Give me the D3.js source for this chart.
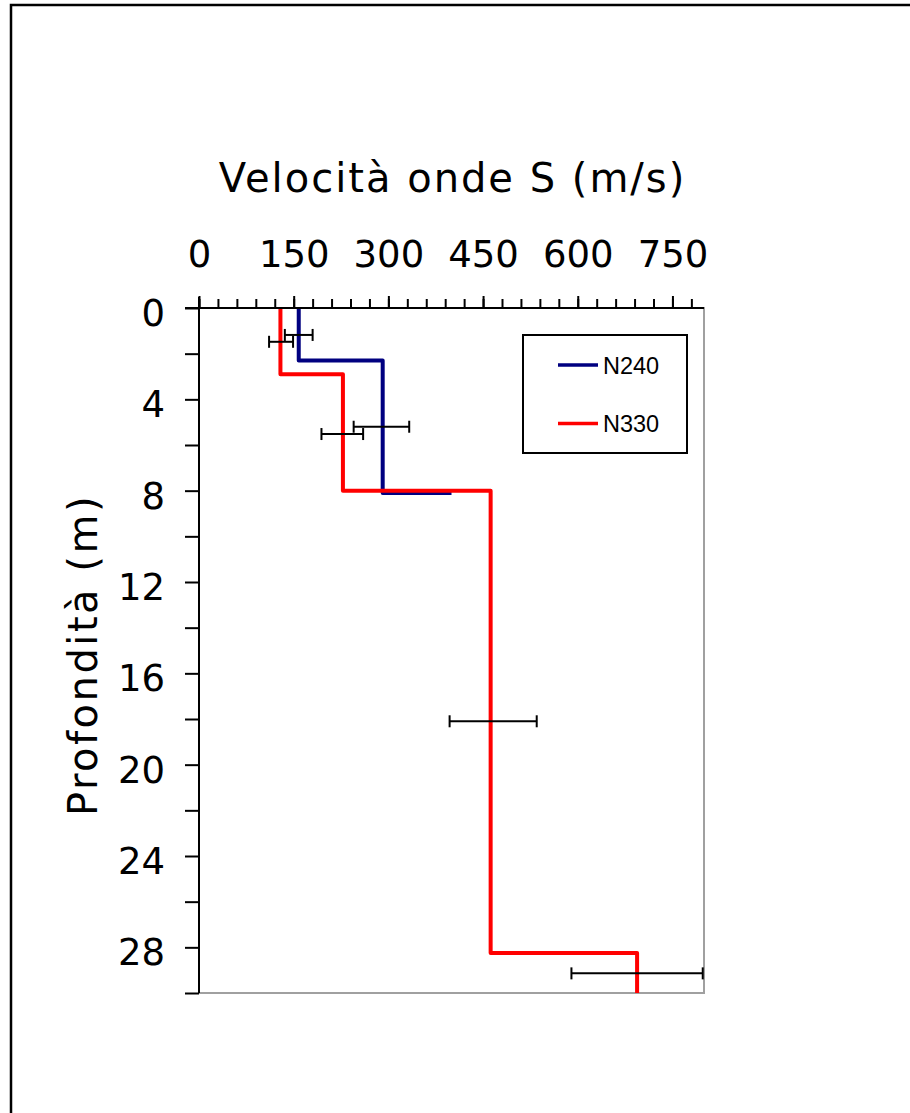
<!DOCTYPE html>
<html>
<head>
<meta charset="utf-8">
<script src="https://cdn.jsdelivr.net/npm/d3@7"></script>
<style>
  html, body { margin: 0; padding: 0; background: #fff; }
  svg { display: block; }
</style>
</head>
<body>
<svg id="chart" width="910" height="1113"></svg>
<script>
// ---- Data ----
const n240Velocity = [158, 158, 291, 291, 400];
const n240Depth    = [0, 2.3, 2.3, 8.1, 8.1];
const n330Velocity = [129, 129, 228, 228, 462, 462, 694, 694];
const n330Depth    = [0, 2.9, 2.9, 8.0, 8.0, 28.25, 28.25, 30];
const errDepth     = [1.18, 1.48, 5.2, 5.52, 18.1, 29.14];
const errVelocity  = [158, 130, 289, 227, 466, 694];
const errDelta     = [22, 19, 44, 33, 69, 104];
const seriesNames  = ["N240", "N330"];
const seriesColors = ["#000080", "#ff0000"];
const xMajorTicks  = [0, 150, 300, 450, 600, 750];
const yMajorTicks  = [0, 4, 8, 12, 16, 20, 24, 28];
const xTitle = "Velocità onde S (m/s)";
const yTitle = "Profondità (m)";

// ---- Layout ----
const svg = d3.select("#chart");
const L = 199, R = 704, T = 308, B = 993;
const x = d3.scaleLinear().domain([0, 800]).range([L, R]);
const y = d3.scaleLinear().domain([0, 30]).range([T, B]);
const numFont = "'DejaVu Sans', Verdana, sans-serif";

// outer frame
svg.append("rect").attr("x", 11).attr("y", 5).attr("width", 1000).attr("height", 1200)
  .attr("fill", "none").attr("stroke", "#000").attr("stroke-width", 2.5);

// plot area border (right/bottom gray)
svg.append("rect").attr("x", L).attr("y", T).attr("width", R - L).attr("height", B - T)
  .attr("fill", "none").attr("stroke", "#a0a0a0").attr("stroke-width", 2);

// series lines
const series = [
  {name: seriesNames[0], color: seriesColors[0], v: n240Velocity, d: n240Depth},
  {name: seriesNames[1], color: seriesColors[1], v: n330Velocity, d: n330Depth}
];
const line = d3.line().x(p => x(p[0])).y(p => y(p[1]));
series.forEach(s => {
  svg.append("path")
    .datum(s.v.map((v, i) => [v, s.d[i]]))
    .attr("d", line)
    .attr("fill", "none")
    .attr("stroke", s.color)
    .attr("stroke-width", 4)
    .attr("stroke-linejoin", "round");
});

// error bars
const eg = svg.append("g").attr("stroke", "#000").attr("stroke-width", 2);
errDepth.forEach((d, i) => {
  const x0 = x(errVelocity[i] - errDelta[i]), x1 = x(errVelocity[i] + errDelta[i]), yy = y(d);
  eg.append("line").attr("x1", x0).attr("x2", x1).attr("y1", yy).attr("y2", yy);
  eg.append("line").attr("x1", x0).attr("x2", x0).attr("y1", yy - 6).attr("y2", yy + 6);
  eg.append("line").attr("x1", x1).attr("x2", x1).attr("y1", yy - 6).attr("y2", yy + 6);
});

// x axis (top): minor + major
const xMinor = d3.axisTop(x).tickValues(d3.range(0, 800, 30)).tickSize(9).tickFormat("");
const gxm = svg.append("g").attr("transform", `translate(0,${T})`).call(xMinor);
const xMajor = d3.axisTop(x).tickValues(xMajorTicks).tickSize(12).tickPadding(29).tickFormat(d3.format("d"));
const gx = svg.append("g").attr("transform", `translate(0,${T})`).call(xMajor);
[gxm, gx].forEach(g => {
  g.select(".domain").remove();
  g.selectAll(".tick line").attr("stroke", "#000").attr("stroke-width", 2);
});
gx.selectAll(".tick text").attr("font-family", numFont).attr("font-size", 37).attr("fill", "#000");
svg.append("line").attr("x1", L - 14).attr("x2", R).attr("y1", T).attr("y2", T)
  .attr("stroke", "#000").attr("stroke-width", 2);

// y axis (left)
const yAx = d3.axisLeft(y).tickValues(d3.range(0, 31, 2)).tickSize(14).tickPadding(20)
  .tickFormat(d => yMajorTicks.includes(d) ? d3.format("d")(d) : "");
const gy = svg.append("g").attr("transform", `translate(${L},0)`).call(yAx);
gy.select(".domain").remove();
gy.selectAll(".tick line").attr("stroke", "#000").attr("stroke-width", 2);
gy.selectAll(".tick text").attr("font-family", numFont).attr("font-size", 37)
  .attr("fill", "#000").attr("dy", "0.47em");
svg.append("line").attr("x1", L).attr("x2", L).attr("y1", T - 11).attr("y2", B)
  .attr("stroke", "#000").attr("stroke-width", 2);

// titles
svg.append("text").attr("x", (L + R) / 2 + 1).attr("y", 192)
  .attr("text-anchor", "middle").attr("font-family", numFont).attr("font-size", 40)
  .attr("letter-spacing", 2).attr("fill", "#000").text(xTitle);
svg.append("text").attr("transform", "translate(97,655) rotate(-90)")
  .attr("text-anchor", "middle").attr("font-family", numFont).attr("font-size", 40)
  .attr("letter-spacing", 2.5).attr("fill", "#000").text(yTitle);

// legend
const lg = svg.append("g");
lg.append("rect").attr("x", 523).attr("y", 335).attr("width", 164).attr("height", 118)
  .attr("fill", "#fff").attr("stroke", "#000").attr("stroke-width", 2);
series.forEach((s, i) => {
  const ly = 365 + i * 58.5;
  lg.append("line").attr("x1", 558).attr("x2", 598).attr("y1", ly).attr("y2", ly)
    .attr("stroke", s.color).attr("stroke-width", 3.5);
  lg.append("text").attr("x", 603).attr("y", ly + 8.5)
    .attr("font-family", "'Liberation Sans', Arial, sans-serif").attr("font-size", 23.5)
    .attr("fill", "#000").text(s.name);
});
</script>
</body>
</html>
